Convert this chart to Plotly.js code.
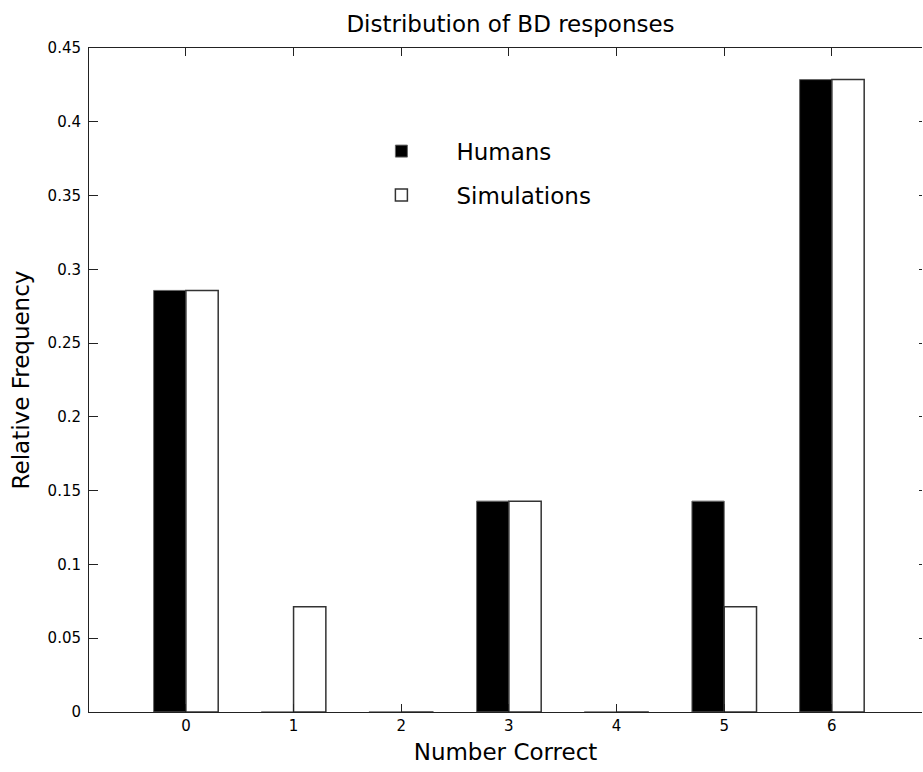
<!DOCTYPE html>
<html>
<head>
<meta charset="utf-8">
<script src="https://cdn.plot.ly/plotly-3.0.1.min.js"></script>
<style>html,body{margin:0;padding:0;background:#fff;}#chart{width:923px;height:772px;}</style>
</head>
<body>
<div id="chart"></div>
<script>
const categories = [0, 1, 2, 3, 4, 5, 6];
const humans = [0.2857, 0, 0, 0.1429, 0, 0.1429, 0.4286];
const simulations = [0.2857, 0.0714, 0, 0.1429, 0, 0.0714, 0.4286];
const yTicks = [0, 0.05, 0.1, 0.15, 0.2, 0.25, 0.3, 0.35, 0.4, 0.45];
const yTickLabels = ['0', '0.05', '0.1', '0.15', '0.2', '0.25', '0.3', '0.35', '0.4', '0.45'];

const FONT = 'DejaVu Sans, Liberation Sans, Arial, sans-serif';

const traces = [
  {
    type: 'bar', name: 'Humans', x: categories, y: humans,
    marker: {color: '#000000', line: {color: '#666666', width: 1}},
    legendgroup: 'h', hoverinfo: 'x+y'
  },
  {
    type: 'bar', name: 'Simulations', x: categories, y: simulations,
    marker: {color: '#ffffff', line: {color: '#333333', width: 1.5}},
    legendgroup: 's', hoverinfo: 'x+y'
  },
  {
    type: 'scatter', x: [], y: [], yaxis: 'y2', showlegend: false, hoverinfo: 'skip'
  }
];

const layout = {
  width: 923, height: 772,
  margin: {l: 89, r: 1, t: 48, b: 60, pad: 0},
  paper_bgcolor: '#ffffff', plot_bgcolor: '#ffffff',
  font: {family: FONT, color: '#000000', size: 16},
  showlegend: true,
  barmode: 'group', bargap: 0.4, bargroupgap: 0,
  title: {
    text: 'Distribution of BD responses',
    font: {family: FONT, size: 23, color: '#000'},
    x: 0.506, xref: 'paper', xanchor: 'center',
    y: 0.969, yref: 'container', yanchor: 'middle'
  },
  xaxis: {
    range: [-0.9, 6.837],
    tickmode: 'array', tickvals: categories, ticktext: categories.map(String),
    ticks: 'inside', ticklen: 8, tickcolor: '#222', tickwidth: 1,
    showline: true, linecolor: '#222', linewidth: 1, mirror: 'ticks',
    showgrid: false, zeroline: false,
    tickfont: {family: FONT, size: 15},
    title: {text: 'Number Correct', font: {family: FONT, size: 23}, standoff: 9},
    fixedrange: true
  },
  yaxis: {
    range: [0, 0.45],
    tickmode: 'array', tickvals: yTicks, ticktext: yTickLabels,
    ticks: 'inside', ticklen: 9, tickcolor: '#222', tickwidth: 1,
    showline: true, linecolor: '#222', linewidth: 1, mirror: false,
    showgrid: false, zeroline: false,
    tickfont: {family: FONT, size: 15},
    ticklabelstandoff: 4,
    title: {text: 'Relative Frequency', font: {family: FONT, size: 23}, standoff: 11},
    fixedrange: true
  },
  yaxis2: {
    overlaying: 'y', side: 'right', anchor: 'x',
    range: [0, 0.45],
    tickmode: 'array', tickvals: yTicks,
    ticks: 'inside', ticklen: 3, tickcolor: '#222',
    showticklabels: false, showline: false, showgrid: false, zeroline: false,
    fixedrange: true
  },
  legend: {
    x: 0.309, y: 0.877, xanchor: 'left', yanchor: 'top',
    bgcolor: 'rgba(0,0,0,0)', borderwidth: 0,
    font: {family: FONT, size: 23, color: '#000'},
    traceorder: 'grouped', tracegroupgap: 11,
    itemwidth: 100
  }
};

Plotly.newPlot('chart', traces, layout, {displayModeBar: false, staticPlot: true});
</script>
</body>
</html>
